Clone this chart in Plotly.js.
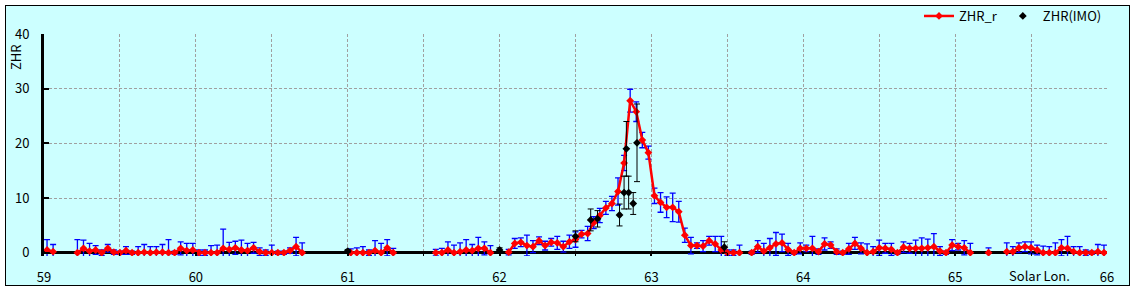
<!DOCTYPE html>
<html>
<head>
<meta charset="utf-8">
<script src="https://cdn.plot.ly/plotly-3.0.1.min.js"></script>
<style>
  html, body { margin: 0; padding: 0; background: #ffffff; }
  #frame { position: absolute; left: 5px; top: 5px; width: 1123px; height: 279px; border: 1px solid #000; background: #ccffff; }
  #chart { width: 1123px; height: 279px; }
</style>
</head>
<body>
<div id="frame"><div id="chart"></div></div>
<script>
// Solar longitude of each hourly ZHR_r point
const solarLon = [
  59.02,59.06,59.10,59.14,59.18,59.22,59.26,59.30,59.34,59.38,59.42,59.46,59.50,59.54,59.58,59.62,59.66,59.70,59.74,59.78,59.82,59.86,59.90,59.94,59.98,
  60.02,60.06,60.10,60.14,60.18,60.22,60.26,60.30,60.34,60.38,60.42,60.46,60.50,60.54,60.58,60.62,60.66,60.70,60.74,60.78,60.82,60.86,60.90,60.94,60.98,
  61.02,61.06,61.10,61.14,61.18,61.22,61.26,61.30,61.34,61.38,61.42,61.46,61.50,61.54,61.58,61.62,61.66,61.70,61.74,61.78,61.82,61.86,61.90,61.94,61.98,
  62.02,62.06,62.10,62.14,62.18,62.22,62.26,62.30,62.34,62.38,62.42,62.46,62.50,62.54,62.58,62.62,62.66,62.70,62.74,62.78,62.82,62.86,62.90,62.94,62.98,
  63.02,63.06,63.10,63.14,63.18,63.22,63.26,63.30,63.34,63.38,63.42,63.46,63.50,63.54,63.58,63.62,63.66,63.70,63.74,63.78,63.82,63.86,63.90,63.94,63.98,
  64.02,64.06,64.10,64.14,64.18,64.22,64.26,64.30,64.34,64.38,64.42,64.46,64.50,64.54,64.58,64.62,64.66,64.70,64.74,64.78,64.82,64.86,64.90,64.94,64.98,
  65.02,65.06,65.10,65.14,65.18,65.22,65.26,65.30,65.34,65.38,65.42,65.46,65.50,65.54,65.58,65.62,65.66,65.70,65.74,65.78,65.82,65.86,65.90,65.94,65.98,
  66.02
];
// ZHR_r values (null = no data)
const zhrR = [
  0.5,0.2,null,null,null,0,0.8,0.3,0.5,0,0.8,0.1,0,0.4,0,0,0.1,0,0.1,0.1,0,0,0.8,0.4,0.5,
  0,0,0,0,0.8,0.6,0.9,0.5,0.4,0.9,0.2,0,0,0,0,0.4,1.1,0,null,null,null,null,null,null,null,
  0,0,0,0,0.4,0,0.9,0,null,null,null,null,null,null,0,0,0.5,0,0.2,0.5,0.4,0.8,0.8,0,null,
  null,0.1,1.7,1.9,1.3,1.1,2.2,1.3,1.9,1.8,1.1,2.0,2.4,3.4,3.5,5.5,6.8,8.2,9.0,11.2,16.4,27.8,25.8,20.6,18.3,
  10.4,9.2,8.3,8.3,7.5,3.2,1.3,1.3,1.2,2.2,1.6,0.5,0,0,0,null,0,1.1,0.3,0.9,1.6,1.8,0.6,0,0.8,
  0.8,0.8,0.2,1.6,1.4,0.2,0,0.7,1.7,0.8,0,0.2,0.9,0.8,0.6,0,1.0,0.8,0.8,0.8,0.9,1.1,0.3,0,1.4,
  1.1,0.9,0,null,null,0,null,null,0.2,0.2,0.9,1.1,0.9,0.5,0,0,0,0.9,0.8,0.2,0,0,0,0.2,0,
  0.1
];
// ZHR_r error
const zhrRErr = [
  1.9,1.3,0,0,0,2.4,1.5,1.4,0.8,0.5,0.7,0.4,0.3,0.7,0.3,1.1,1.4,1.1,1.0,1.4,2.4,0.3,1.2,1.3,1.2,
  0.5,0.5,1.3,1.4,3.5,1.3,1.2,1.8,1.3,1.0,0.7,0.5,1.4,0.3,0.3,0.5,1.7,1.8,0,0,0,0,0,0,0,
  0.7,0.9,1.1,0.5,1.8,1.7,1.5,0.8,0,0,0,0,0,0,0.6,0.8,1.5,1.4,1.6,1.9,1.1,2.0,1.2,1.3,0,
  0,0.5,0.9,0.8,1.9,1.1,0.7,0.8,0.7,1.2,1.0,1.2,1.4,0.7,1.3,1.1,1.3,1.2,1.3,2.5,1.4,2.1,1.8,1.4,1.2,
  1.4,1.8,1.9,2.6,1.9,1.3,1.5,0.5,1.0,0.8,1.4,2.5,0.5,0.5,1.4,0,0.3,1.1,1.4,1.7,2.1,1.6,1.1,0.3,1.0,
  0.6,2.2,0.5,1.1,0.6,0.5,0.3,1.0,1.1,1.0,1.6,0.9,1.4,0.9,1.1,0.3,1.0,0.9,1.5,1.9,1.6,2.4,0.8,0.3,1.0,
  0.6,1.3,1.7,0,0,0.9,0,0,1.6,0.9,0.9,0.9,1.1,0.9,1.2,1.1,1.8,1.5,2.2,0.9,1.1,0.5,0.3,1.3,1.4,
  0.5
];
// ZHR(IMO)
const imoLon = [61.00, 62.00, 62.50, 62.60, 62.645, 62.79, 62.82, 62.835, 62.85, 62.88, 62.905, 63.48];
const imoZhr = [0.3, 0.5, 3.0, 6.0, 6.2, 6.9, 11.0, 19.0, 11.0, 9.0, 20.1, 1.0];
const imoErr = [0.3, 0.4, 1.0, 2.0, 1.5, 2.0, 3.0, 5.0, 3.0, 2.0, 7.1, 1.0];

const xTickVals = [59, 60, 61, 62, 63, 64, 65, 66];
const xTickText = ['59', '60', '61', '62', '63', '64', '65', '66'];
const yTickVals = [0, 10, 20, 30, 40];

const FONT = '"Noto Sans CJK JP", "Liberation Sans", sans-serif';
const FS = 13;
const gridCol = '#a0a0a0';

const traces = [
  {
    type: 'scatter', mode: 'lines+markers', name: 'ZHR_r',
    x: solarLon, y: zhrR, connectgaps: false,
    line: { color: '#ff0000', width: 2.5 },
    marker: { symbol: 'diamond', size: 6, color: '#ff0000' },
    error_y: { type: 'data', array: zhrRErr, symmetric: true, color: '#0000ff', thickness: 1.3, width: 3 }
  },
  {
    type: 'scatter', mode: 'markers', name: 'ZHR(IMO)',
    x: imoLon, y: imoZhr,
    marker: { symbol: 'diamond', size: 6, color: '#000000' },
    error_y: { type: 'data', array: imoErr, symmetric: true, color: '#000000', thickness: 1, width: 3 }
  }
];

const layout = {
  width: 1123, height: 279,
  margin: { l: 38, r: 22, t: 28, b: 29, pad: 0, autoexpand: false },
  paper_bgcolor: '#ccffff', plot_bgcolor: '#ccffff',
  font: { family: FONT, size: FS, color: '#000' },
  showlegend: true,
  legend: {
    orientation: 'h', x: 1, xanchor: 'right', y: 1.081, yanchor: 'middle',
    bgcolor: 'rgba(0,0,0,0)', font: { family: FONT, size: FS, color: '#000' },
    itemwidth: 30, traceorder: 'normal'
  },
  xaxis: {
    range: [59, 66], tickmode: 'array', tickvals: xTickVals, ticktext: xTickText,
    ticks: 'inside', ticklen: 4, tickwidth: 2, tickcolor: '#000',
    showgrid: true, gridcolor: gridCol, griddash: '3px,2px', gridwidth: 1,
    minor: { dtick: 0.5, tick0: 59, ticks: 'inside', ticklen: 3, tickwidth: 1, tickcolor: '#000', showgrid: true, gridcolor: gridCol, griddash: '3px,2px', gridwidth: 1 },
    showline: false, zeroline: false,
    ticklabelstandoff: 12,
    tickfont: { family: FONT, size: FS, color: '#000' }
  },
  yaxis: {
    range: [-0.6, 40], tickmode: 'array', tickvals: yTickVals,
    ticks: 'inside', ticklen: 5, tickwidth: 2, tickcolor: '#000',
    showgrid: true, gridcolor: gridCol, griddash: '3px,2px', gridwidth: 1,
    showline: true, linecolor: '#000', linewidth: 3,
    zeroline: true, zerolinecolor: '#000', zerolinewidth: 3,
    ticklabelstandoff: 9,
    tickfont: { family: FONT, size: FS, color: '#000' }
  },
  annotations: [
    { text: 'ZHR', xref: 'paper', yref: 'paper', x: 0, y: 1, xshift: -29, yshift: -23,
      xanchor: 'center', yanchor: 'middle', textangle: -90, showarrow: false,
      font: { family: FONT, size: FS, color: '#000' } },
    { text: 'Solar Lon.', xref: 'x', yref: 'paper', x: 65.555, y: 0, yshift: -19,
      xanchor: 'center', yanchor: 'middle', showarrow: false,
      font: { family: FONT, size: FS, color: '#000' } }
  ]
};

Plotly.newPlot('chart', traces, layout, { displayModeBar: false, staticPlot: true });
</script>
</body>
</html>
